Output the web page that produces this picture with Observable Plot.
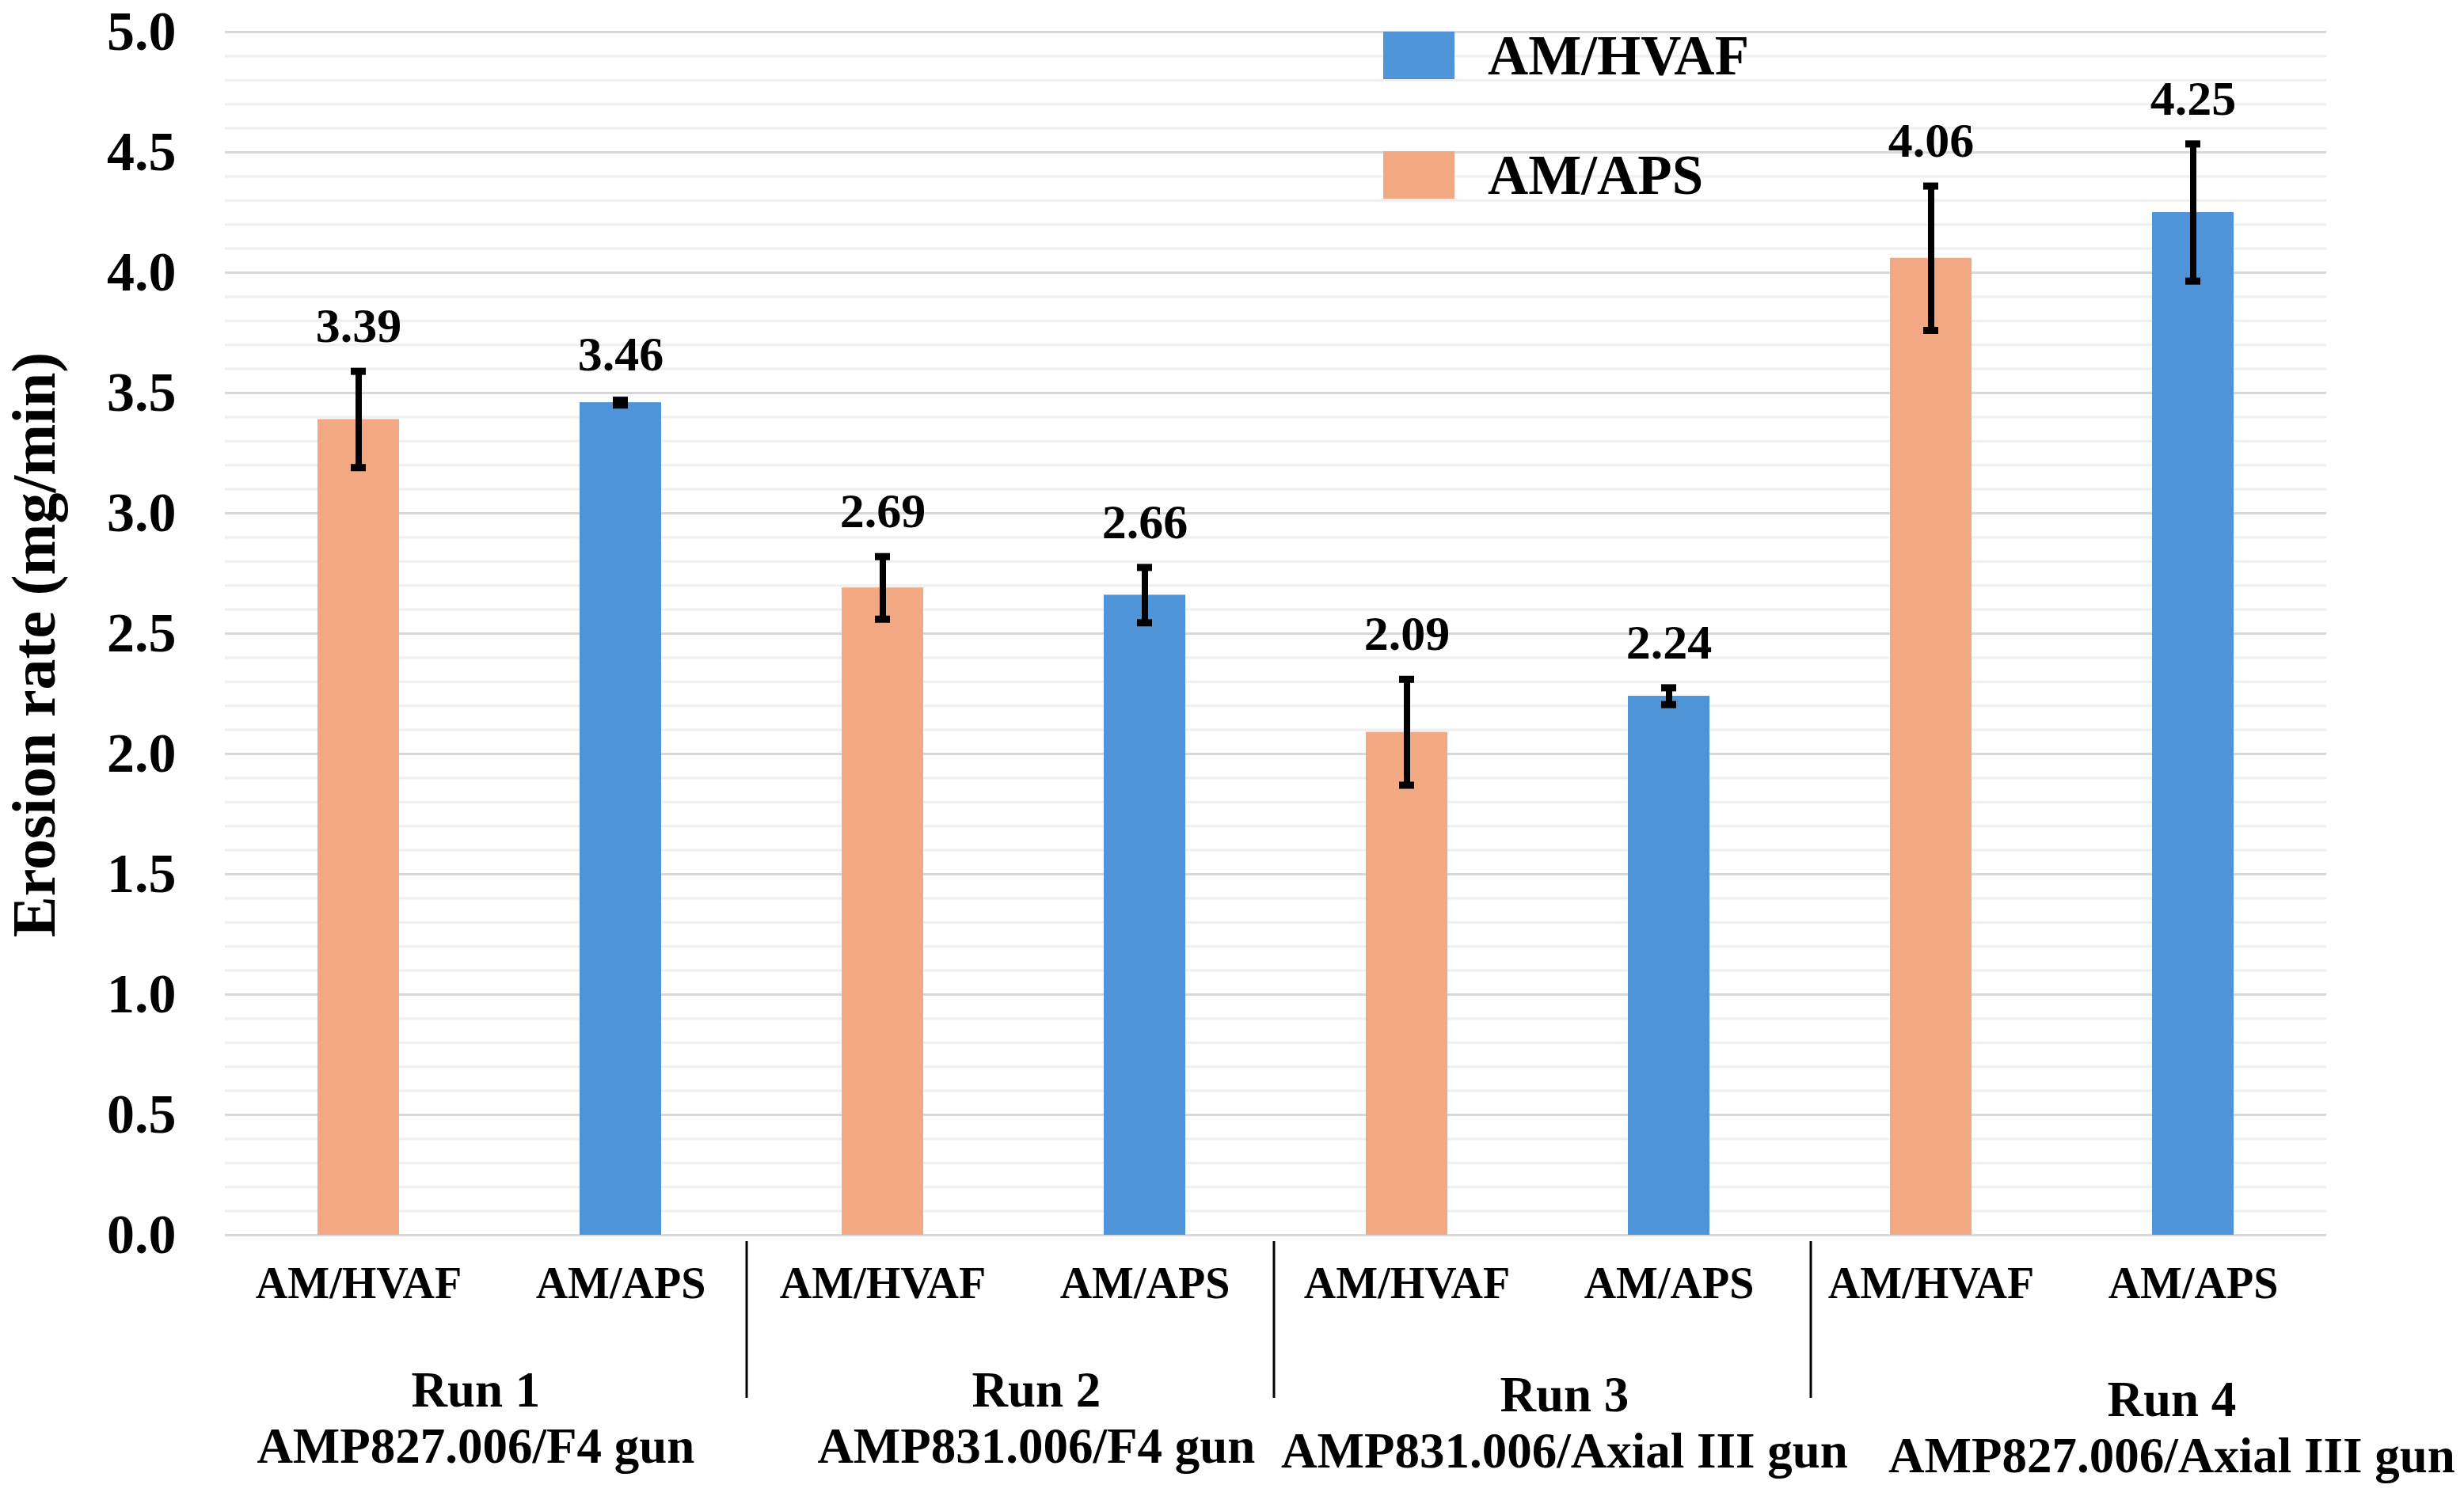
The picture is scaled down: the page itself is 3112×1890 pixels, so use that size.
<!DOCTYPE html>
<html>
<head>
<meta charset="utf-8">
<script src="https://cdn.jsdelivr.net/npm/d3@7"></script>
<script src="https://cdn.jsdelivr.net/npm/@observablehq/plot@0.6"></script>
<style>
  html, body { margin: 0; padding: 0; background: #ffffff; }
  #wrap { position: relative; width: 3112px; height: 1890px; font-family: "Liberation Serif", "Times New Roman", serif; font-weight: bold; }
  .legend-item { position: absolute; display: flex; align-items: center; font-size: 71px; line-height: 60px; color: #000; }
  .legend-swatch { width: 90px; height: 60px; margin-right: 42px; flex: none; }
</style>
</head>
<body>
<div id="wrap"></div>
<script>
// ---- data ----
const runs = ["Run 1", "Run 2", "Run 3", "Run 4"];
const guns = ["AMP827.006/F4 gun", "AMP831.006/F4 gun", "AMP831.006/Axial III gun", "AMP827.006/Axial III gun"];
const seriesNames = ["AM/HVAF", "AM/APS"];
const hvafValues = [3.39, 2.69, 2.09, 4.06];
const apsValues = [3.46, 2.66, 2.24, 4.25];
const hvafErrors = [0.20, 0.13, 0.22, 0.30];
const apsErrors = [0.01, 0.115, 0.035, 0.285];
const legendLabels = ["AM/HVAF", "AM/APS"];
const yTicks = [0, 0.5, 1.0, 1.5, 2.0, 2.5, 3.0, 3.5, 4.0, 4.5, 5.0];
const yLabel = "Erosion rate (mg/min)";

// ---- styles ----
const ORANGE = "#F2A983";
const BLUE = "#4F94D8";
const barColors = [ORANGE, BLUE];       // colour of bars per x-series
const legendColors = [BLUE, ORANGE];    // legend as shown in the figure
const groupShiftX = [-18, 28, 33, 138]; // nudges of the run labels
const groupShiftY = [0, 0, 6, 12];
const sepShift = [-6, -2, 14];

// ---- table ----
const rows = [];
runs.forEach((run, i) => {
  rows.push({run, series: seriesNames[0], key: run + "|" + seriesNames[0], value: hvafValues[i], err: hvafErrors[i], s: 0});
  rows.push({run, series: seriesNames[1], key: run + "|" + seriesNames[1], value: apsValues[i], err: apsErrors[i], s: 1});
});
rows.forEach(d => { d.lo = d.value - d.err; d.hi = d.value + d.err; });
const keys = rows.map(d => d.key);

const W = 3112, H = 1890;
const mL = 284, mR = 174, mT = 40, mB = 330;
const slot = (W - mL - mR) / keys.length;
const minorTicks = d3.range(0, 51).map(i => i / 10);

const groupLabelMarks = runs.map((run, i) =>
  Plot.text([i], {
    x: () => run + "|" + seriesNames[0],
    text: j => runs[j] + "\n" + guns[j],
    frameAnchor: "bottom",
    lineAnchor: "top",
    lineHeight: 1.13,
    dx: slot / 2 + groupShiftX[i],
    dy: 166 + groupShiftY[i],
    fontSize: 63,
    fontWeight: "bold",
    fill: "#000"
  })
);

const separators = (index, scales, values, dimensions) => {
  const g = d3.create("svg:g");
  const x = scales.x;
  const bw = x.bandwidth();
  const step = x.step();
  const y0 = dimensions.height - dimensions.marginBottom;
  runs.slice(1).forEach((run, i) => {
    const xb = x(run + "|" + seriesNames[0]) - (step - bw) / 2 + sepShift[i];
    g.append("line")
      .attr("x1", xb).attr("x2", xb)
      .attr("y1", y0 + 8).attr("y2", y0 + 206)
      .attr("stroke", "#000").attr("stroke-width", 3);
  });
  return g.node();
};

const chart = Plot.plot({
  width: W,
  height: H,
  marginLeft: mL,
  marginRight: mR,
  marginTop: mT,
  marginBottom: mB,
  style: { fontFamily: "Liberation Serif, Times New Roman, serif", fontWeight: "bold", background: "#ffffff", color: "#000" },
  x: { domain: keys, paddingInner: 0.69, paddingOuter: 0.345, label: null },
  y: { domain: [0, 5], label: null },
  marks: [
    Plot.ruleY(minorTicks, { stroke: "#efefef", strokeWidth: 3 }),
    Plot.ruleY(yTicks, { stroke: "#d9d9d9", strokeWidth: 3 }),
    Plot.barY(rows, { x: "key", y: "value", fill: d => barColors[d.s] }),
    Plot.ruleX(rows, { x: "key", y1: "lo", y2: "hi", stroke: "#000", strokeWidth: 8 }),
    Plot.tickY(rows, { x: "key", y: "lo", stroke: "#000", strokeWidth: 9, insetLeft: 42, insetRight: 42 }),
    Plot.tickY(rows, { x: "key", y: "hi", stroke: "#000", strokeWidth: 9, insetLeft: 42, insetRight: 42 }),
    Plot.text(rows, { x: "key", y: "hi", text: d => d.value.toFixed(2), dy: -57, fontSize: 62, fontWeight: "bold", fill: "#000" }),
    Plot.axisY({ ticks: yTicks, tickFormat: d3.format(".1f"), tickSize: 0, tickPadding: 62, fontSize: 70, fontWeight: "bold", label: null }),
    Plot.axisX({ tickSize: 0, tickPadding: 40, fontSize: 56, fontWeight: "bold", tickFormat: d => d.split("|")[1], label: null }),
    Plot.text([yLabel], { frameAnchor: "left", textAnchor: "middle", text: d => d, rotate: -90, dx: -240, dy: 14, fontSize: 78, fontWeight: "bold", fill: "#000" }),
    ...groupLabelMarks,
    separators
  ]
});

const wrap = document.getElementById("wrap");
wrap.appendChild(chart);

// legend (inside the plot, top right)
const legendTops = [40, 191];
legendLabels.forEach((lab, i) => {
  const item = document.createElement("div");
  item.className = "legend-item";
  item.style.left = "1747px";
  item.style.top = legendTops[i] + "px";
  const sw = document.createElement("div");
  sw.className = "legend-swatch";
  sw.style.background = legendColors[i];
  const tx = document.createElement("span");
  tx.textContent = lab;
  item.appendChild(sw);
  item.appendChild(tx);
  wrap.appendChild(item);
});
</script>
</body>
</html>
